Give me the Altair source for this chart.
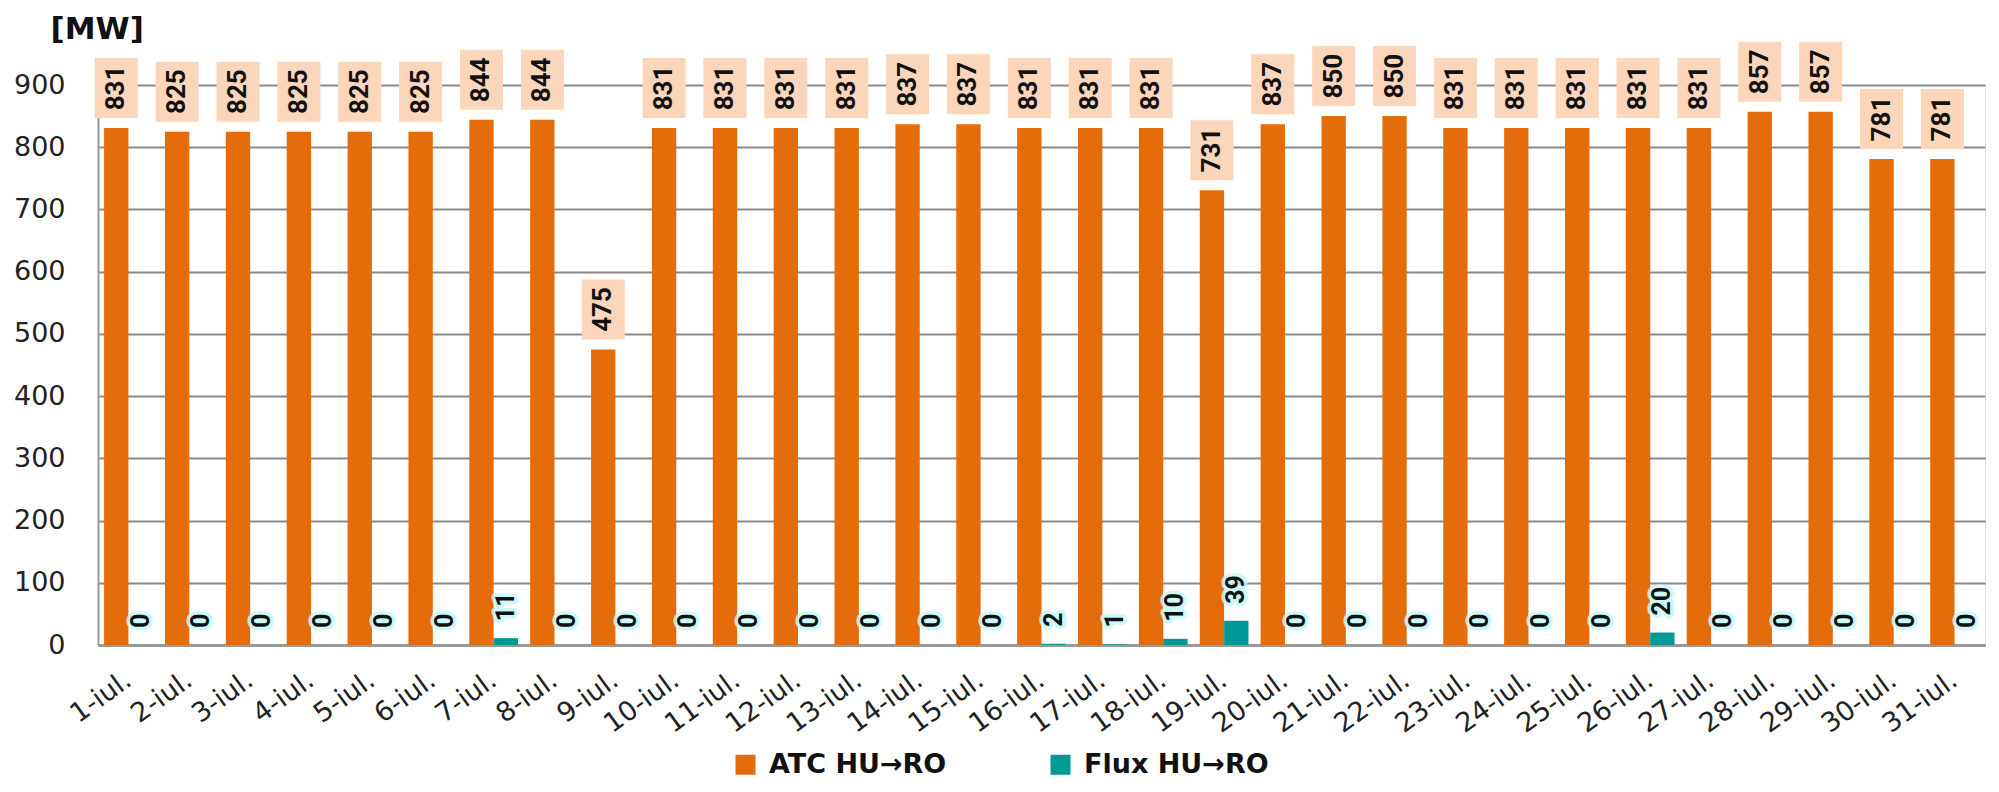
import altair as alt
import pandas as pd

days = ["1-iul.", "2-iul.", "3-iul.", "4-iul.", "5-iul.", "6-iul.", "7-iul.", "8-iul.",
        "9-iul.", "10-iul.", "11-iul.", "12-iul.", "13-iul.", "14-iul.", "15-iul.",
        "16-iul.", "17-iul.", "18-iul.", "19-iul.", "20-iul.", "21-iul.", "22-iul.",
        "23-iul.", "24-iul.", "25-iul.", "26-iul.", "27-iul.", "28-iul.", "29-iul.",
        "30-iul.", "31-iul."]
atc = [831, 825, 825, 825, 825, 825, 844, 844, 475, 831, 831, 831, 831, 837, 837, 831,
       831, 831, 731, 837, 850, 850, 831, 831, 831, 831, 831, 857, 857, 781, 781]
flux = [0, 0, 0, 0, 0, 0, 11, 0, 0, 0, 0, 0, 0, 0, 0, 2,
        1, 10, 39, 0, 0, 0, 0, 0, 0, 20, 0, 0, 0, 0, 0]
series = ["ATC HU→RO", "Flux HU→RO"]
colors = ["#E46C0A", "#009A96"]

rows = []
for d, a, f in zip(days, atc, flux):
    rows.append({"day": d, "series": series[0], "value": a})
    rows.append({"day": d, "series": series[1], "value": f})
df = pd.DataFrame(rows)

base = alt.Chart(df).encode(
    x=alt.X("day:N", sort=days, title=None,
            scale=alt.Scale(paddingInner=0.2, paddingOuter=0.1),
            axis=alt.Axis(labelAngle=-36, labelAlign="right", labelBaseline="middle",
                          labelFontSize=27, labelFont="DejaVu Sans", labelColor="#222",
                          ticks=False, labelPadding=32, domainColor="#999",
                          domainWidth=3, grid=False)),
    xOffset=alt.XOffset("series:N", scale=alt.Scale(domain=series, paddingInner=0, paddingOuter=0)),
    y=alt.Y("value:Q", scale=alt.Scale(domain=[0, 900], nice=False),
            axis=alt.Axis(values=[0, 100, 200, 300, 400, 500, 600, 700, 800, 900],
                          title="[MW]", titleAngle=0, titleAlign="left",
                          titleBaseline="alphabetic", titleX=-48, titleY=-47,
                          titleFontSize=31, titleFont="DejaVu Sans", titleFontWeight="bold",
                          titleColor="#111",
                          labelFontSize=27, labelFont="DejaVu Sans", labelColor="#222",
                          labelPadding=33, ticks=False, domainColor="#999", domainWidth=2,
                          gridColor="#8a8a8a", gridWidth=2)),
)

bars = base.mark_bar().encode(
    color=alt.Color("series:N", scale=alt.Scale(domain=series, range=colors),
                    legend=alt.Legend(title=None, orient="none", legendX=634, legendY=666,
                                      direction="horizontal", symbolType="square",
                                      symbolSize=400, symbolStrokeWidth=0,
                                      labelFontSize=27, labelFont="DejaVu Sans",
                                      labelFontWeight="bold", labelColor="#111",
                                      labelLimit=500, columnPadding=100, labelOffset=10))
)

atc_only = alt.datum.series == series[0]
flux_only = alt.datum.series == series[1]

boxes = base.transform_filter(atc_only).mark_point(
    shape="M-0.717,-1L0.717,-1L0.717,1L-0.717,1Z", size=3600, filled=True,
    fill="#FBD6BA", opacity=1, strokeWidth=0, yOffset=-40)

atc_text = base.transform_filter(atc_only).mark_text(
    angle=270, align="center", baseline="middle", yOffset=-40,
    font="Roboto", fontWeight="bold", fontSize=26, color="#111").encode(text="value:Q")

flux_glow = base.transform_filter(flux_only).mark_text(
    angle=270, align="left", baseline="middle", yOffset=-17,
    font="Roboto", fontWeight="bold", fontSize=25, fill="#C4F8F8",
    stroke="#C4F8F8", strokeWidth=7, strokeJoin="round", opacity=0.85).encode(text="value:Q")

flux_text = base.transform_filter(flux_only).mark_text(
    angle=270, align="left", baseline="middle", yOffset=-17,
    font="Roboto", fontWeight="bold", fontSize=25, color="#111").encode(text="value:Q")

chart = alt.layer(bars, boxes, atc_text, flux_glow, flux_text).properties(
    width=1887, height=560,
    autosize=alt.AutoSizeParams(type="none"),
    padding={"left": 90, "top": 77, "right": 4, "bottom": 133},
).configure_view(stroke="#999", strokeWidth=2).configure(background="white")

chart.save("out.html", embed_options={"renderer": "svg", "actions": False})
